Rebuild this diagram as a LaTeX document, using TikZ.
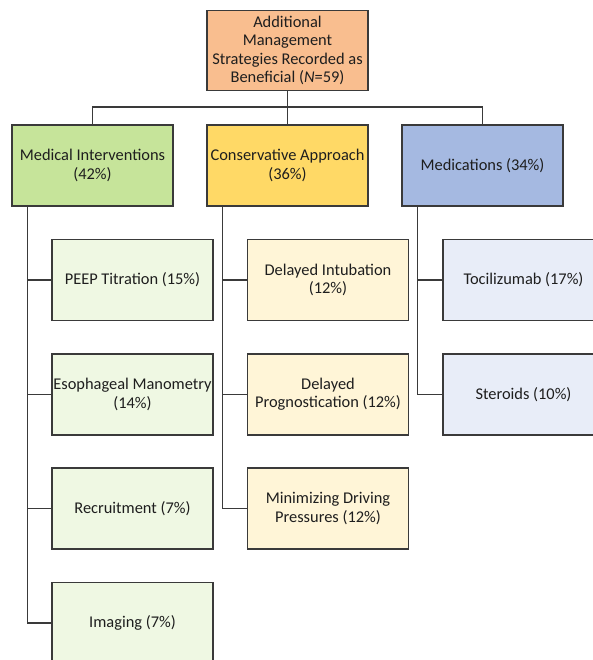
\documentclass[tikz,border=0pt]{standalone}
\usepackage{fontspec}
\setmainfont{Carlito}
\definecolor{bordercol}{HTML}{3A3A3A}
\definecolor{topcol}{HTML}{F9BE8F}
\definecolor{medcol}{HTML}{C6E49A}
\definecolor{concol}{HTML}{FFD966}
\definecolor{drugcol}{HTML}{A5B9E1}
\definecolor{medlt}{HTML}{EFF8E3}
\definecolor{conlt}{HTML}{FFF5D7}
\definecolor{druglt}{HTML}{E8EDF8}
\definecolor{txtcol}{HTML}{1E1E1E}
\tikzset{
  box/.style={draw=bordercol, line width=1.3pt, rectangle, inner sep=0pt,
    minimum width=161pt, minimum height=81pt, align=center, text=txtcol,
    font=\fontsize{16.4}{18.4}\selectfont},
  conn/.style={draw=bordercol, line width=1.3pt}
}
\begin{document}
\begin{tikzpicture}[x=1pt,y=-1pt]
\useasboundingbox (0,0) rectangle (593,660);
\clip (0,0) rectangle (593,660);
\fill[white] (0,0) rectangle (593,660);
% top
\node[box, fill=topcol, minimum height=80pt] (top) at (287.5,50.5)
  {Additional\\Management\\Strategies Recorded as\\Beneficial (\textit{N}=59)};
% level 1
\node[box, fill=medcol] (med) at (92.5,165.5) {Medical Interventions\\(42\%)};
\node[box, fill=concol] (con) at (287.5,165.5) {Conservative Approach\\(36\%)};
\node[box, fill=drugcol] (drug) at (482.5,165.5) {Medications (34\%)};
% medical children
\node[box, fill=medlt] (peep) at (132.5,280) {PEEP Titration (15\%)};
\node[box, fill=medlt] (eso) at (132.5,394.5) {Esophageal Manometry\\(14\%)};
\node[box, fill=medlt] (rec) at (132.5,508.5) {Recruitment (7\%)};
\node[box, fill=medlt] (img) at (132.5,623) {Imaging (7\%)};
% conservative children
\node[box, fill=conlt] (intub) at (328,280) {Delayed Intubation\\(12\%)};
\node[box, fill=conlt] (prog) at (328,394.5) {Delayed\\Prognostication (12\%)};
\node[box, fill=conlt] (drive) at (328,508.5) {Minimizing Driving\\Pressures (12\%)};
% medication children
\node[box, fill=druglt] (toci) at (523.5,280) {Tocilizumab (17\%)};
\node[box, fill=druglt] (ster) at (523.5,394.5) {Steroids (10\%)};
% bus
\coordinate (bus) at (0,107);
\draw[conn] (top.south) -- (top.south |- bus);
\draw[conn] (med.north) -- (med.north |- bus) -- (drug.north |- bus) -- (drug.north);
\draw[conn] (con.north) -- (con.north |- bus);
% trunks
\coordinate (mt) at ([xshift=16pt]med.south west);
\coordinate (ct) at ([xshift=16pt]con.south west);
\coordinate (dt) at ([xshift=16pt]drug.south west);
\draw[conn] (mt) |- (img.west);
\draw[conn] (mt |- peep.west) -- (peep.west);
\draw[conn] (mt |- eso.west) -- (eso.west);
\draw[conn] (mt |- rec.west) -- (rec.west);
\draw[conn] (ct) |- (drive.west);
\draw[conn] (ct |- intub.west) -- (intub.west);
\draw[conn] (ct |- prog.west) -- (prog.west);
\draw[conn] (dt) |- (ster.west);
\draw[conn] (dt |- toci.west) -- (toci.west);
\end{tikzpicture}
\end{document}
